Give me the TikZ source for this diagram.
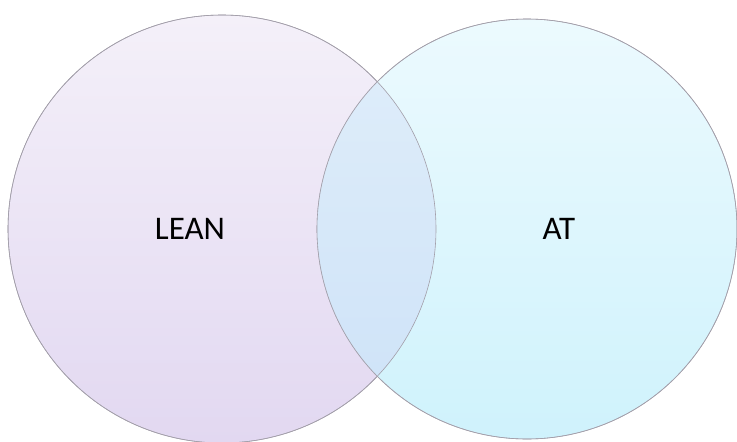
\documentclass[tikz,border=0pt]{standalone}
\usepackage{fontspec}
\setmainfont{Carlito}
\usepackage{tikz}
\definecolor{leantop}{HTML}{F4F0F9}
\definecolor{leanbot}{HTML}{E2D8F1}
\definecolor{attop}{HTML}{ECFAFE}
\definecolor{atbot}{HTML}{CFF2FC}
\definecolor{bothtop}{HTML}{E0EEFA}
\definecolor{bothbot}{HTML}{CDE2F8}
\definecolor{rim}{HTML}{A39FAA}

\begin{document}
\begin{tikzpicture}[x=1pt,y=-1pt]
       \tikzstyle{set} = [circle, draw=rim, line width=0.6pt, inner sep=0pt];
       \tikzstyle{label} = [font=\fontsize{33}{38}\selectfont, text=black];

       \useasboundingbox (0,0) rectangle (737,442);

       \node[set, minimum size=428pt, top color=leantop, bottom color=leanbot] (lean) at (222,229) {};
       \node[set, minimum size=420pt, top color=attop, bottom color=atbot] (at) at (527,229) {};

       % overlap of the two sets
       \begin{scope}
         \clip (222,229) circle (214);
         \shade[top color=bothtop, bottom color=bothbot] (527,229) circle (210);
       \end{scope}
       \draw[rim, line width=0.6pt] (222,229) circle (214);
       \draw[rim, line width=0.6pt] (527,229) circle (210);

       \node[label] (leantext) at (190,229) {LEAN};
       \node[label] (attext) at (559,229) {AT};
\end{tikzpicture}
\end{document}
